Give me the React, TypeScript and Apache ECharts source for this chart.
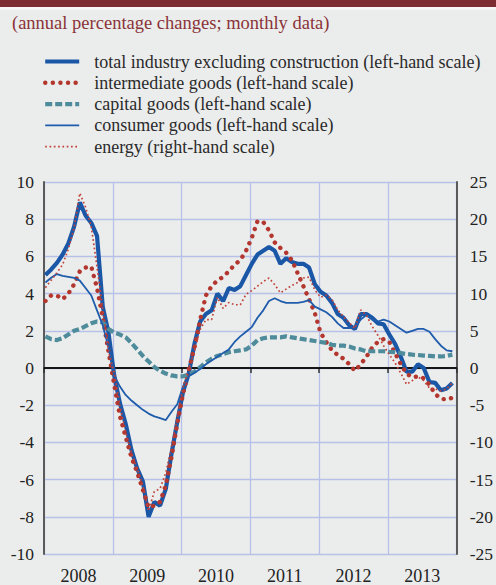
import React, { useEffect, useRef } from "react";
import * as echarts from "echarts";

// Year categories (x-axis labels)
const years = ["2008", "2009", "2010", "2011", "2012", "2013"];

// Monthly data, Jan 2008 – Dec 2013 (annual percentage changes)
const totalIndustry = [
  5.0, 5.3, 5.65, 6.1, 6.7, 7.6, 8.9, 8.2, 7.8, 7.1, 3.3, 1.9,
  -0.4, -1.9, -3.0, -4.4, -5.4, -6.1, -8.0, -7.2, -7.4, -6.5, -4.6, -2.9,
  -1.3, -0.3, 1.3, 2.5, 2.9, 3.1, 4.0, 3.6, 4.3, 4.2, 4.4, 5.0,
  5.6, 6.1, 6.3, 6.5, 6.3, 5.6, 5.9, 5.7, 5.6, 5.6, 5.4, 4.5,
  4.1, 3.9, 3.5, 2.9, 2.7, 2.3, 2.1, 2.9, 2.9, 2.7, 2.4, 2.35,
  1.8, 1.3, 0.6, -0.2, -0.2, 0.2, 0.0, -0.75, -0.8, -1.2, -1.1, -0.8,
];
const intermediateGoods = [
  3.6, 3.9, 3.9, 3.7, 4.0, 4.5, 5.2, 5.4, 5.45, 4.3, 2.7, 0.9,
  -0.9, -2.6, -3.7, -4.8, -5.6, -6.55, -7.5, -7.4, -7.2, -6.3, -4.8, -3.0,
  -1.4, -0.1, 1.1, 2.6, 3.9, 4.4, 4.7, 4.9, 5.2, 5.55, 5.8, 6.3,
  7.0, 7.9, 7.85, 7.4, 6.75, 6.45, 6.2, 5.8, 5.1, 4.4, 3.7, 2.95,
  1.9, 1.4, 0.95, 0.7, 0.5, 0.2, -0.15, 0.2, 0.6, 1.1, 1.4, 1.55,
  1.4, 0.8, 0.2, -0.3, -0.5, -0.45, -0.55, -0.9, -1.4, -1.65, -1.7, -1.6,
];
const capitalGoods = [
  1.7, 1.55, 1.5, 1.6, 1.8, 2.0, 2.1, 2.25, 2.4, 2.5, 2.45, 2.1,
  1.9, 1.8, 1.65, 1.35, 1.0, 0.65, 0.35, 0.05, -0.15, -0.3, -0.4, -0.45,
  -0.45, -0.35, -0.2, 0.05, 0.3, 0.5, 0.65, 0.75, 0.85, 0.9, 0.95, 1.0,
  1.2, 1.5, 1.6, 1.65, 1.65, 1.65, 1.7, 1.65, 1.6, 1.55, 1.5, 1.45,
  1.4, 1.35, 1.25, 1.2, 1.2, 1.15, 1.05, 1.0, 0.9, 0.9, 0.9, 0.9,
  0.87, 0.85, 0.8, 0.75, 0.72, 0.7, 0.67, 0.65, 0.62, 0.62, 0.65, 0.72,
];
const consumerGoods = [
  4.6, 4.85, 5.05, 4.95, 4.9, 4.85, 4.7, 4.3, 3.9, 3.1, 2.3, 1.1,
  -0.4, -1.0, -1.45, -1.75, -2.0, -2.25, -2.45, -2.6, -2.7, -2.8, -2.35, -1.95,
  -1.0, -0.45, -0.25, -0.05, 0.2, 0.4, 0.6, 0.8, 1.0, 1.4, 1.7, 1.95,
  2.2, 2.7, 3.1, 3.6, 3.75, 3.6, 3.5, 3.5, 3.5, 3.55, 3.65, 3.3,
  3.15, 3.0, 2.75, 2.4, 2.15, 2.15, 2.2, 2.6, 2.85, 2.6, 2.5, 2.6,
  2.5, 2.3, 2.1, 1.9, 2.0, 2.1, 2.1, 1.95, 1.55, 1.2, 0.95, 0.9,
];
const energy = [
  10.8, 11.8, 12.8, 13.9, 16.0, 18.8, 23.5, 21.6, 19.0, 13.6, 8.0, 2.2,
  -0.6, -5.1, -8.6, -11.4, -13.5, -15.8, -19.2, -16.6, -16.2, -14.1, -10.6, -6.7,
  -2.6, -0.1, 2.3, 5.2, 6.5, 6.5, 9.5, 8.0, 8.8, 8.5, 8.5, 9.9,
  10.4, 11.0, 11.6, 12.1, 11.2, 10.1, 10.6, 11.1, 11.5, 12.1, 12.2, 10.5,
  9.5, 9.8, 9.2, 7.8, 6.9, 6.1, 5.3, 7.8, 7.1, 5.6, 4.4, 3.0,
  1.8, 0.7, -0.7, -2.2, -1.7, -1.2, -1.7, -2.7, -2.8, -3.1, -2.8, -2.0,
];

const seriesNames = [
  "total industry excluding construction (left-hand scale)",
  "intermediate goods (left-hand scale)",
  "capital goods (left-hand scale)",
  "consumer goods (left-hand scale)",
  "energy (right-hand scale)",
];

const MONTHS = 72;
const MONTH_POS = 0.25; // position of a monthly observation within its month

const toPoints = (arr: number[]) => arr.map((v, i) => [i + MONTH_POS, v]);

const FONT = "'Liberation Serif', 'Times New Roman', serif";
const GRID_COLOR = "#b7c1e8";
const BG = "#ebedec";

export default function App() {
  const ref = useRef<HTMLDivElement>(null);

  useEffect(() => {
    if (!ref.current) return;
    const chart = echarts.init(ref.current, undefined, { renderer: "svg" });
    const option: any = {
      animation: false,
      backgroundColor: BG,
      title: {
        text: "(annual percentage changes; monthly data)",
        left: 12,
        top: 13,
        padding: 0,
        textStyle: {
          fontFamily: FONT,
          fontSize: 18.5,
          fontWeight: "normal",
          color: "#8a3338",
        },
      },
      graphic: [
        {
          type: "rect",
          left: 0,
          top: 0,
          shape: { width: 496, height: 7 },
          style: { fill: "#7d2c31" },
          silent: true,
        },
        {
          type: "rect",
          left: 0,
          top: 7,
          shape: { width: 496, height: 2.5 },
          style: { fill: "#f7f7f7" },
          silent: true,
        },
      ],
      legend: {
        orient: "vertical",
        left: 43,
        top: 52.5,
        itemWidth: 34,
        itemHeight: 14,
        itemGap: 3.3,
        padding: 0,
        data: seriesNames,
        itemStyle: { color: "transparent", borderWidth: 0, opacity: 0 },
        lineStyle: { width: "inherit", type: "inherit", color: "inherit", cap: "inherit" },
        textStyle: {
          fontFamily: FONT,
          fontSize: 18,
          lineHeight: 18,
          color: "#2a2a2a",
          padding: [0, 0, 0, 10],
        },
      },
      grid: { left: 44, right: 33, top: 182, bottom: 23, containLabel: false },
      xAxis: [
        {
          type: "category",
          data: years,
          position: "bottom",
          boundaryGap: true,
          axisLine: { show: true, lineStyle: { color: "#333", width: 1.5 } },
          axisTick: { show: true, length: 5, lineStyle: { color: "#333", width: 1.5 } },
          axisLabel: { fontFamily: FONT, fontSize: 18, color: "#222", margin: 13 },
          splitLine: { show: false },
        },
        {
          type: "value",
          min: 0,
          max: MONTHS,
          interval: 12,
          position: "bottom",
          axisLine: { show: false },
          axisTick: { show: false },
          axisLabel: { show: false },
          splitLine: { show: true, lineStyle: { color: GRID_COLOR, width: 1.3 } },
        },
      ],
      yAxis: [
        {
          type: "value",
          position: "left",
          min: -10,
          max: 10,
          interval: 2,
          axisLine: { show: true, lineStyle: { color: "#5a5a5a", width: 2 } },
          axisTick: { show: false },
          axisLabel: { fontFamily: FONT, fontSize: 17.5, color: "#222", margin: 10 },
          splitLine: { show: true, lineStyle: { color: GRID_COLOR, width: 1.3 } },
        },
        {
          type: "value",
          position: "right",
          min: -25,
          max: 25,
          interval: 5,
          axisLine: { show: true, lineStyle: { color: "#5a5a5a", width: 2 } },
          axisTick: { show: false },
          axisLabel: { fontFamily: FONT, fontSize: 17.5, color: "#222", margin: 13 },
          splitLine: { show: false },
        },
      ],
      series: [
        {
          name: seriesNames[0],
          type: "line",
          xAxisIndex: 1,
          yAxisIndex: 0,
          symbol: "none",
          data: toPoints(totalIndustry),
          lineStyle: { color: "#1b57a7", width: 4.2 },
          itemStyle: { color: "#1b57a7" },
          markLine: {
            silent: true,
            symbol: "none",
            z: 1,
            label: { show: false },
            lineStyle: { color: "#000", width: 1.6, type: "solid" },
            data: [{ yAxis: 0 }],
          },
        },
        {
          name: seriesNames[1],
          type: "line",
          xAxisIndex: 1,
          yAxisIndex: 0,
          symbol: "none",
          data: toPoints(intermediateGoods),
          lineStyle: { color: "#b3372f", width: 4.4, type: [0.1, 7.5], cap: "round" },
          itemStyle: { color: "#b3372f" },
        },
        {
          name: seriesNames[2],
          type: "line",
          xAxisIndex: 1,
          yAxisIndex: 0,
          symbol: "none",
          data: toPoints(capitalGoods),
          lineStyle: { color: "#4e8b9b", width: 4.2, type: [7, 3] },
          itemStyle: { color: "#4e8b9b" },
        },
        {
          name: seriesNames[3],
          type: "line",
          xAxisIndex: 1,
          yAxisIndex: 0,
          symbol: "none",
          data: toPoints(consumerGoods),
          lineStyle: { color: "#1f5cab", width: 1.8 },
          itemStyle: { color: "#1f5cab" },
        },
        {
          name: seriesNames[4],
          type: "line",
          xAxisIndex: 1,
          yAxisIndex: 1,
          symbol: "none",
          data: toPoints(energy),
          lineStyle: { color: "#c0433b", width: 1.7, type: [1.7, 2.6] },
          itemStyle: { color: "#c0433b" },
        },
      ],
    };
    chart.setOption(option);
    return () => chart.dispose();
  }, []);

  return (
    <div
      ref={ref}
      style={{ position: "fixed", left: 0, top: 0, width: 496, height: 585 }}
    />
  );
}
